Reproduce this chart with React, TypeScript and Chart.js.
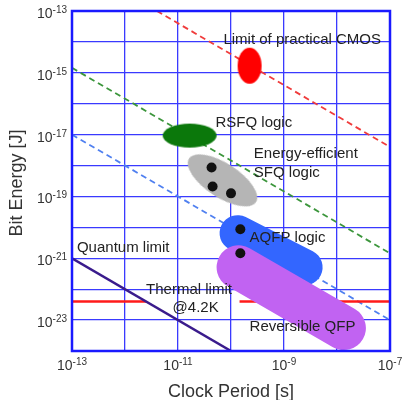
import React, { useEffect, useRef } from "react";
import { Chart, registerables } from "chart.js";
Chart.register(...registerables);

// ---- axes ----
const periodDecades = [1e-13, 1e-12, 1e-11, 1e-10, 1e-9, 1e-8, 1e-7];
const energyDecades = [1e-24, 1e-23, 1e-22, 1e-21, 1e-20, 1e-19, 1e-18, 1e-17, 1e-16, 1e-15, 1e-14, 1e-13];
const periodLabelExponents = [-13, -11, -9, -7];
const energyLabelExponents = [-13, -15, -17, -19, -21, -23];

// ---- reference lines ----
const cmosLimitPeriod = [4e-12, 1e-7];
const cmosLimitEnergy = [1e-13, 4e-18];
const sfqLimitPeriod = [1e-13, 1e-7];
const sfqLimitEnergy = [1.45e-15, 1.45e-21];
const aqfpLimitPeriod = [1e-13, 1e-7];
const aqfpLimitEnergy = [1e-17, 1e-23];
const quantumPeriod = [1e-13, 1e-10];
const quantumEnergy = [1e-21, 1e-24];
const thermalPeriodLeft = [1e-13, 2.5e-12];
const thermalPeriodRight = [1.45e-10, 1e-7];
const thermalEnergy = [4e-23, 4e-23];

// ---- technology regions ----
const ellipsePeriod = [2.24e-10, 1.66e-11, 6.9e-11]; // CMOS, RSFQ, energy-efficient SFQ
const ellipseEnergy = [1.7e-15, 9.3e-18, 3.3e-19];
const aqfpPeriod = [1.33e-10, 2.45e-9];
const aqfpEnergy = [6.5e-21, 5.1e-22];
const rqfpPeriod = [1.39e-10, 1.35e-8];
const rqfpEnergy = [5.1e-22, 5.5e-24];
const dotPeriod = [4.3e-11, 4.5e-11, 1.0e-10, 1.5e-10, 1.5e-10];
const dotEnergy = [8.7e-19, 2.1e-19, 1.26e-19, 8.7e-21, 1.45e-21];

// ---- annotations ----
const labelTexts = [
  "Limit of practical CMOS",
  "RSFQ logic",
  "Energy-efficient",
  "SFQ logic",
  "AQFP logic",
  "Reversible QFP",
  "Quantum limit",
  "Thermal limit",
  "@4.2K",
];
const labelPeriod = [7.2e-11, 5.1e-11, 2.7e-10, 2.7e-10, 2.24e-10, 2.24e-10, 1.24e-13, 2.5e-12, 7.9e-12];
const labelEnergy = [1.15e-14, 2.45e-17, 2.45e-18, 5.9e-19, 4.5e-21, 5.9e-24, 2.1e-21, 9.3e-23, 2.45e-23];

const ellipseStyles = [
  { rx: 12, ry: 18, rot: 0, color: "#ff0000" },
  { rx: 27, ry: 12, rot: 0, color: "#0b780b" },
  { rx: 40, ry: 17, rot: 33, color: "#b5b5b5" },
];

const FONT = '"Liberation Sans", Arial, sans-serif';

function pts(xs: number[], ys: number[]) {
  return xs.map((x, i) => ({ x, y: ys[i] }));
}

function ellipseCanvas(rx: number, ry: number, color: string) {
  const c = document.createElement("canvas");
  c.width = Math.ceil(rx * 2 + 2);
  c.height = Math.ceil(ry * 2 + 2);
  const g = c.getContext("2d")!;
  g.fillStyle = color;
  g.beginPath();
  g.ellipse(c.width / 2, c.height / 2, rx, ry, 0, 0, Math.PI * 2);
  g.fill();
  return c;
}

const overlayPlugin = {
  id: "overlay",
  afterDatasetsDraw(chart: any) {
    const { ctx, chartArea, scales } = chart;
    const xs = scales.x;
    const ys = scales.y;
    ctx.save();
    // frame
    ctx.strokeStyle = "#1a1aff";
    ctx.lineWidth = 2.5;
    ctx.strokeRect(chartArea.left, chartArea.top, chartArea.right - chartArea.left, chartArea.bottom - chartArea.top);

    // annotations
    ctx.fillStyle = "#222";
    ctx.font = `15px ${FONT}`;
    ctx.textAlign = "left";
    ctx.textBaseline = "middle";
    labelTexts.forEach((t, i) => {
      ctx.fillText(t, xs.getPixelForValue(labelPeriod[i]), ys.getPixelForValue(labelEnergy[i]));
    });

    // tick labels
    const main = `14px ${FONT}`;
    const sup = `10px ${FONT}`;
    ctx.fillStyle = "#333";
    ctx.textBaseline = "alphabetic";
    ctx.textAlign = "left";
    periodLabelExponents.forEach((e) => {
      const px = xs.getPixelForValue(Math.pow(10, e));
      ctx.font = main;
      const w1 = ctx.measureText("10").width;
      ctx.font = sup;
      const s = "-" + String(-e);
      const w2 = ctx.measureText(s).width;
      const x0 = px - (w1 + w2) / 2;
      ctx.font = main;
      ctx.fillText("10", x0, 370);
      ctx.font = sup;
      ctx.fillText(s, x0 + w1, 365);
    });
    energyLabelExponents.forEach((e) => {
      const py = ys.getPixelForValue(Math.pow(10, e));
      ctx.font = sup;
      const s = "-" + String(-e);
      const w2 = ctx.measureText(s).width;
      ctx.font = main;
      const w1 = ctx.measureText("10").width;
      const right = 67;
      ctx.fillText("10", right - w2 - w1, py + 7);
      ctx.font = sup;
      ctx.fillText(s, right - w2, py + 2);
    });

    // axis titles
    ctx.fillStyle = "#333";
    ctx.font = `18px ${FONT}`;
    ctx.textAlign = "center";
    ctx.textBaseline = "alphabetic";
    ctx.fillText("Clock Period [s]", (chartArea.left + chartArea.right) / 2, 397);
    ctx.save();
    ctx.translate(22, (chartArea.top + chartArea.bottom) / 2 + 2);
    ctx.rotate(-Math.PI / 2);
    ctx.fillText("Bit Energy [J]", 0, 0);
    ctx.restore();
    ctx.restore();
  },
};

export default function App() {
  const ref = useRef<HTMLCanvasElement>(null);
  useEffect(() => {
    if (!ref.current) return;
    const line = (data: any, color: string, width: number, dash: number[], order: number, cap: any = "butt") => ({
      data,
      showLine: true,
      borderColor: color,
      backgroundColor: color,
      borderWidth: width,
      borderDash: dash,
      borderCapStyle: cap,
      pointRadius: 0,
      pointHoverRadius: 0,
      fill: false,
      order,
    });
    const ellipseSets = ellipseStyles.map((st, i) => ({
      data: [{ x: ellipsePeriod[i], y: ellipseEnergy[i] }],
      showLine: false,
      pointStyle: ellipseCanvas(st.rx, st.ry, st.color),
      pointRadius: 10,
      pointHoverRadius: 10,
      rotation: st.rot,
      order: 8,
    }));
    const chart = new Chart(ref.current, {
      type: "scatter",
      data: {
        datasets: [
          {
            data: pts(dotPeriod, dotEnergy),
            pointRadius: 5,
            pointHoverRadius: 5,
            backgroundColor: "#111",
            borderWidth: 0,
            order: 1,
          } as any,
          line(pts(rqfpPeriod, rqfpEnergy), "#c163f2", 44, [], 6, "round"),
          line(pts(aqfpPeriod, aqfpEnergy), "#3366ff", 36, [], 7, "round"),
          ...ellipseSets,
          line(pts(quantumPeriod, quantumEnergy), "#3a1b8c", 2.5, [], 9),
          line(pts(thermalPeriodLeft, thermalEnergy), "#ff1a1a", 2.5, [], 9),
          line(pts(thermalPeriodRight, thermalEnergy), "#ff1a1a", 2.5, [], 9),
          line(pts(cmosLimitPeriod, cmosLimitEnergy), "#f03c3c", 1.8, [6, 4], 10),
          line(pts(sfqLimitPeriod, sfqLimitEnergy), "#3c963c", 1.8, [6, 4], 10),
          line(pts(aqfpLimitPeriod, aqfpLimitEnergy), "#5080f0", 1.8, [6, 4], 10),
        ],
      },
      options: {
        responsive: false,
        animation: false,
        events: [],
        layout: { padding: { left: 72, top: 10, right: 13, bottom: 49 } },
        plugins: { legend: { display: false }, tooltip: { enabled: false } },
        scales: {
          x: {
            type: "logarithmic",
            min: 1e-13,
            max: 1e-7,
            ticks: { display: false },
            grid: { color: "#3a3aff", lineWidth: 1.3, drawTicks: false },
            border: { display: false },
            afterBuildTicks: (axis: any) => {
              axis.ticks = periodDecades.map((v) => ({ value: v }));
            },
            afterFit: (axis: any) => {
              axis.height = 0;
            },
          },
          y: {
            type: "logarithmic",
            min: 1e-24,
            max: 1e-13,
            ticks: { display: false },
            grid: { color: "#3a3aff", lineWidth: 1.3, drawTicks: false },
            border: { display: false },
            afterBuildTicks: (axis: any) => {
              axis.ticks = energyDecades.map((v) => ({ value: v }));
            },
            afterFit: (axis: any) => {
              axis.width = 0;
            },
          },
        },
      } as any,
      plugins: [overlayPlugin],
    });
    return () => chart.destroy();
  }, []);
  return (
    <div style={{ position: "absolute", left: 0, top: 0, width: 403, height: 400, background: "#fff" }}>
      <canvas ref={ref} width={403} height={400} />
    </div>
  );
}
